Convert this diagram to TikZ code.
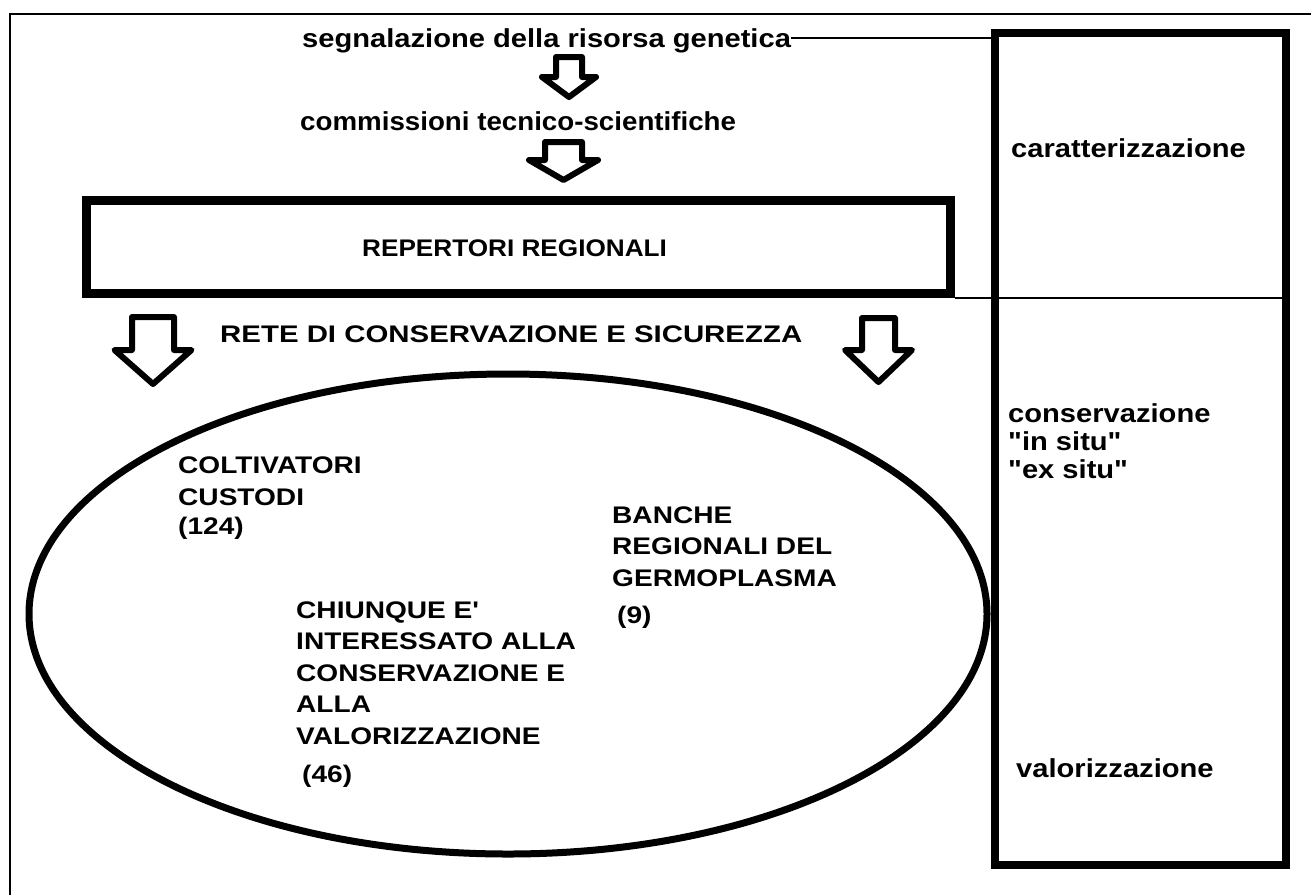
\documentclass[tikz,border=0pt]{standalone}
\usepackage{fontspec}
\setmainfont[FakeStretch=1.12]{Liberation Sans}
\newfontfamily\lowA[FakeStretch=1.12]{Liberation Sans}
\newfontfamily\capsA[FakeStretch=1.17]{Liberation Sans}
\newfontfamily\capsB[FakeStretch=1.09]{Liberation Sans}
\newfontfamily\capsC[FakeStretch=1.225]{Liberation Sans}
\newfontfamily\lowB[FakeStretch=1.066]{Liberation Sans}
\newcommand\blockarr[6]{% cx, top, shaft half, head half, head y, tip y
  \draw[blk] (#1-#3,#2) -- (#1+#3,#2) -- (#1+#3,#5) -- (#1+#4,#5) -- (#1,#6)
    -- (#1-#4,#5) -- (#1-#3,#5) -- cycle;}
\begin{document}
\begin{tikzpicture}[x=1pt,y=-1pt,
  lc/.style={font=\lowA\fontsize{26}{31.5}\selectfont\bfseries, inner sep=0pt, anchor=base west},
  uc/.style={font=\capsA\fontsize{24}{31.5}\selectfont\bfseries, inner sep=0pt, anchor=base west},
  blk/.style={line width=6pt, line join=round, fill=white},
  thin/.style={line width=1.5pt},
  thickbox/.style={draw, line width=9pt, inner sep=0pt}]
\useasboundingbox (0,0) rectangle (1311,895);
% frame
\draw[thin] (10,895) -- (10,14) -- (1311,14);
% right box
\node[thickbox, line width=8pt, minimum width=291pt, minimum height=832pt, anchor=north west] (rbox) at (991,29) {};
% repertori box
\node[thickbox, minimum width=864pt, minimum height=93pt, anchor=north west] (rep) at (82,196) {};
\node[uc, font=\capsB\fontsize{24}{31.5}\selectfont\bfseries] (reptxt) at (362,256) {REPERTORI REGIONALI};
% top texts
\node[lc] (seg) at (302,47) {segnalazione della risorsa genetica};
\node[lc, font=\lowB\fontsize{26}{31.5}\selectfont\bfseries] (comm) at (300,130) {commissioni tecnico-scientifiche};
\coordinate (segend) at ([yshift=9pt]seg.base east);
\draw[thin] (segend) -- (rbox.west |- segend);
\draw[thin] (rep.south east) -- (rbox.east |- rep.south east);
% arrows
\blockarr{569}{57}{13}{27}{77}{97}
\blockarr{563.5}{142}{18.5}{34.5}{160}{180}
\blockarr{153}{317}{21}{38.5}{350}{384}
\blockarr{878.5}{318}{16.5}{33.5}{350}{382}
\node[uc, font=\capsC\fontsize{24}{31.5}\selectfont\bfseries] (rete) at (220,342) {RETE DI CONSERVAZIONE E SICUREZZA};
% ellipse
\draw[line width=7pt] (508,614) ellipse [x radius=479, y radius=240];
% ellipse texts
\node[uc] (c1) at (178,473) {COLTIVATORI};
\node[uc] (c2) at (178,505) {CUSTODI};
\node[uc] (c3) at (178,534) {(124)};
\node[uc] (b1) at (612,523) {BANCHE};
\node[uc] (b2) at (612,554) {REGIONALI DEL};
\node[uc] (b3) at (612,586) {GERMOPLASMA};
\node[uc] (b4) at (617,623) {(9)};
\node[uc] (h1) at (296,618) {CHIUNQUE E'};
\node[uc] (h2) at (296,649.5) {INTERESSATO ALLA};
\node[uc] (h3) at (296,681) {CONSERVAZIONE E};
\node[uc] (h4) at (296,712.5) {ALLA};
\node[uc] (h5) at (296,744) {VALORIZZAZIONE};
\node[uc] (h6) at (302,782) {(46)};
% right texts
\node[lc] (car) at (1011,157) {caratterizzazione};
\node[lc] (cons) at (1008,422) {conservazione};
\node[lc] (ins) at (1008,450) {"in situ"};
\node[lc] (exs) at (1008,478) {"ex situ"};
\node[lc] (val) at (1016,777) {valorizzazione};
\end{tikzpicture}
\end{document}
